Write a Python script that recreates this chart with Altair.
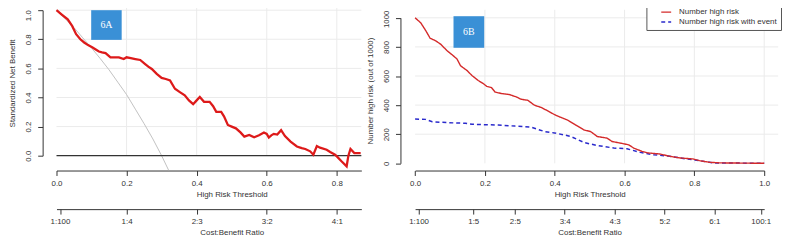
import altair as alt
import pandas as pd

# ---------------- data ----------------
# Panel 6A: decision curve (standardized net benefit)
a_t = [0.0, 0.015, 0.032, 0.045, 0.056, 0.068, 0.079, 0.09, 0.103, 0.112, 0.121, 0.13, 0.14,
       0.154, 0.165, 0.178, 0.192, 0.2, 0.212, 0.225, 0.239, 0.253, 0.262, 0.272, 0.286, 0.3,
       0.312, 0.324, 0.338, 0.352, 0.366, 0.378, 0.39, 0.398, 0.409, 0.421, 0.437, 0.447, 0.456,
       0.47, 0.478, 0.489, 0.5, 0.512, 0.525, 0.536, 0.55, 0.564, 0.578, 0.592, 0.6, 0.606,
       0.613, 0.62, 0.63, 0.641, 0.652, 0.668, 0.686, 0.70, 0.71, 0.724, 0.733, 0.743, 0.752,
       0.771, 0.781, 0.795, 0.8, 0.814, 0.828, 0.833, 0.839, 0.85, 0.868]
a_nb = [1.0, 0.97, 0.937, 0.89, 0.835, 0.80, 0.778, 0.76, 0.744, 0.73, 0.716, 0.71, 0.705,
        0.676, 0.675, 0.676, 0.664, 0.676, 0.67, 0.664, 0.658, 0.63, 0.612, 0.596, 0.562, 0.535,
        0.527, 0.517, 0.46, 0.437, 0.415, 0.38, 0.354, 0.375, 0.403, 0.37, 0.37, 0.34, 0.301,
        0.301, 0.27, 0.211, 0.2, 0.188, 0.16, 0.131, 0.143, 0.127, 0.14, 0.159, 0.15, 0.125,
        0.14, 0.15, 0.145, 0.175, 0.135, 0.097, 0.063, 0.052, 0.046, 0.03, 0.007, 0.066, 0.055,
        0.041, 0.025, 0.007, -0.005, -0.04, -0.073, 0.0, 0.046, 0.018, 0.018]
all_t = [0.0, 0.025, 0.05, 0.075, 0.1, 0.125, 0.15, 0.175, 0.2, 0.225, 0.25, 0.275, 0.3, 0.32]
all_nb = [1.0, 0.94, 0.88, 0.81, 0.74, 0.667, 0.59, 0.505, 0.42, 0.32, 0.22, 0.115, 0.0, -0.1]
none_t = [0.0, 0.87]
none_nb = [0.0, 0.0]

# Panel 6B: clinical impact curve (out of 1000)
b_t_risk = [0.0, 0.016, 0.03, 0.043, 0.059, 0.073, 0.092, 0.106, 0.12, 0.13, 0.149, 0.163, 0.181,
            0.196, 0.205, 0.219, 0.229, 0.248, 0.271, 0.29, 0.304, 0.323, 0.342, 0.361, 0.385,
            0.399, 0.413, 0.437, 0.46, 0.484, 0.503, 0.522, 0.55, 0.564, 0.588, 0.612, 0.626,
            0.65, 0.668, 0.701, 0.73, 0.758, 0.796, 0.815, 0.843, 0.872, 0.914, 1.0]
b_n_risk = [1000, 966, 914, 860, 842, 819, 773, 746, 717, 671, 637, 603, 569,
            547, 529, 520, 490, 479, 472, 456, 440, 433, 399, 384, 354,
            335, 320, 297, 263, 229, 218, 184, 173, 150, 139, 127, 105,
            82, 71, 64, 48, 37, 30, 18, 7, 3, 2, 0]
b_t_event = [0.0, 0.03, 0.049, 0.096, 0.144, 0.163, 0.238, 0.285, 0.333, 0.371, 0.399, 0.427,
             0.446, 0.484, 0.522, 0.569, 0.607, 0.645, 0.683, 0.73, 0.777, 0.815, 0.853, 1.0]
b_n_event = [304, 302, 286, 279, 275, 268, 263, 256, 248, 218, 209, 195,
             184, 143, 122, 105, 100, 75, 59, 48, 30, 18, 3, 0]
series_names = ["Number high risk", "Number high risk with event"]

# axes ticks / labels
a_thr_ticks = [0.0, 0.2, 0.4, 0.6, 0.8]
a_cb_ticks = [1 / 101, 0.2, 0.4, 0.6, 0.8]
a_cb_labels = ["1:100", "1:4", "2:3", "3:2", "4:1"]
b_thr_ticks = [0.0, 0.2, 0.4, 0.6, 0.8, 1.0]
b_cb_ticks = [1 / 101, 1 / 6, 2 / 7, 3 / 7, 4 / 7, 5 / 7, 6 / 7, 100 / 101]
b_cb_labels = ["1:100", "1:5", "2:5", "3:4", "4:3", "5:2", "6:1", "100:1"]
nb_ticks = [0.0, 0.2, 0.4, 0.6, 0.8, 1.0]
n_ticks = [0, 200, 400, 600, 800, 1000]

# panel tag boxes (data coordinates)
a_box = dict(x0=0.099, x1=0.186, y0=0.796, y1=1.0, label="6A")
b_box = dict(x0=0.110, x1=0.198, y0=794, y1=1011, label="6B")

# ---------------- style ----------------
FONT = "Liberation Sans"
TXT = "#333333"
W, H = 783, 234
GRID = "#ebebeb"

xa = alt.Scale(domain=[0, 0.87], range=[49, 357], nice=False, zero=False)
ya = alt.Scale(domain=[0, 1], range=[148, 1], nice=False, zero=False)
xb = alt.Scale(domain=[0, 1], range=[411.3, 764], nice=False, zero=False)
yb = alt.Scale(domain=[0, 1000], range=[155.7, 8.7], nice=False, zero=False)


def lab_expr(ticks, labels):
    expr = "''"
    for v, l in reversed(list(zip(ticks, labels))):
        expr = f"abs(datum.value - {v}) < 1e-6 ? '{l}' : {expr}"
    return expr


def common_axis(**kw):
    base = dict(grid=False, tickSize=5, domainColor=TXT, tickColor=TXT, labelColor=TXT,
                titleColor=TXT, labelFont=FONT, titleFont=FONT, labelFontSize=8,
                titleFontSize=8, titleFontWeight="normal", labelFlush=False,
                labelOverlap=False, domainWidth=1, tickWidth=1)
    base.update(kw)
    return alt.Axis(**base)


def x_axis(values, title, offset, expr=None, fmt=None, titleX=None):
    kw = dict(values=values, title=title, orient="bottom", offset=offset,
              labelPadding=4, titlePadding=3)
    if expr:
        kw["labelExpr"] = expr
    if fmt:
        kw["format"] = fmt
    if titleX is not None:
        kw["titleX"] = titleX
    return common_axis(**kw)


def y_axis(values, title, offset, fmt, top_value, top_shift):
    return common_axis(values=values, title=title, orient="left", offset=offset, format=fmt,
                       labelAngle=270, labelAlign="center", labelBaseline="bottom",
                       labelOffset={"condition": {"test": f"datum.value >= {top_value}",
                                                  "value": top_shift}, "value": 0},
                       labelPadding=5, titlePadding=8)


# ---------------- panel A ----------------
df_a = pd.DataFrame({"t": a_t, "nb": a_nb})
df_all = pd.DataFrame({"t": all_t, "nb": all_nb})
df_none = pd.DataFrame({"t": none_t, "nb": none_nb})
df_agv = pd.DataFrame({"gx": a_thr_ticks[1:], "gy0": nb_ticks[0], "gy1": 1.05})
df_agh = pd.DataFrame({"gy": nb_ticks[1:], "gx0": none_t[0], "gx1": none_t[1]})
df_abox = pd.DataFrame([a_box])
df_abox["xc"] = (df_abox.x0 + df_abox.x1) / 2
df_abox["yc"] = (df_abox.y0 + df_abox.y1) / 2

a_gv = alt.Chart(df_agv).mark_rule(color=GRID, strokeWidth=1).encode(
    x=alt.X("gx:Q", scale=xa, axis=None), y=alt.Y("gy0:Q", scale=ya, axis=None), y2="gy1:Q")
a_gh = alt.Chart(df_agh).mark_rule(color=GRID, strokeWidth=1).encode(
    y=alt.Y("gy:Q", scale=ya, axis=None), x=alt.X("gx0:Q", scale=xa, axis=None), x2="gx1:Q")
a_all = alt.Chart(df_all).mark_line(color="#bbbbbb", strokeWidth=0.9).encode(
    x=alt.X("t:Q", scale=xa,
            axis=x_axis(a_cb_ticks, "Cost:Benefit Ratio", -32,
                        expr=lab_expr(a_cb_ticks, a_cb_labels), titleX=226)),
    y=alt.Y("nb:Q", scale=ya, axis=None))
a_none = alt.Chart(df_none).mark_line(color="#333333", strokeWidth=1.3).encode(
    x=alt.X("t:Q", scale=xa, axis=None), y=alt.Y("nb:Q", scale=ya, axis=None))
a_line = alt.Chart(df_a).mark_line(color="#dd1a1a", strokeWidth=2.3).encode(
    x=alt.X("t:Q", scale=xa, axis=x_axis(a_thr_ticks, "High Risk Threshold", -71,
                                          fmt=".1f", titleX=226)),
    y=alt.Y("nb:Q", scale=ya,
            axis=y_axis(nb_ticks, "Standardized Net Benefit", -35, ".1f", 1, 5)))
a_rect = alt.Chart(df_abox).mark_rect(color="#3a90d6").encode(
    x=alt.X("x0:Q", scale=xa, axis=None), x2="x1:Q",
    y=alt.Y("y0:Q", scale=ya, axis=None), y2="y1:Q")
a_text = alt.Chart(df_abox).mark_text(color="white", font="Liberation Serif", fontSize=10).encode(
    x=alt.X("xc:Q", scale=xa, axis=None), y=alt.Y("yc:Q", scale=ya, axis=None), text="label:N")

panel_a = alt.layer(a_gv, a_gh, a_all, a_none, a_line, a_rect, a_text).resolve_axis(
    x="independent", y="independent")

# ---------------- panel B ----------------
df_br = pd.DataFrame({"t": b_t_risk, "n": b_n_risk, "series": series_names[0]})
df_be = pd.DataFrame({"t": b_t_event, "n": b_n_event, "series": series_names[1]})
df_bgv = pd.DataFrame({"gx": b_thr_ticks[1:], "gy0": n_ticks[0], "gy1": 1055})
df_bgh = pd.DataFrame({"gy": n_ticks[1:], "gx0": b_thr_ticks[0], "gx1": 1.04})
df_bbox = pd.DataFrame([b_box])
df_bbox["xc"] = (df_bbox.x0 + df_bbox.x1) / 2
df_bbox["yc"] = (df_bbox.y0 + df_bbox.y1) / 2

legend = alt.Legend(title=None, orient="none", legendX=645, legendY=-7, padding=4,
                    strokeColor="#555555", fillColor="white", labelFont=FONT, labelFontSize=8,
                    labelColor=TXT, symbolType="stroke", symbolSize=100, symbolStrokeWidth=1.4,
                    symbolOffset=10, labelOffset=7, rowPadding=0, labelLimit=0, cornerRadius=0)
color_enc = alt.Color("series:N", scale=alt.Scale(domain=series_names,
                                                  range=["#d42a2a", "#2a2acc"]), legend=legend)
dash_enc = alt.StrokeDash("series:N", scale=alt.Scale(domain=series_names,
                                                      range=[[1, 0], [4, 3]]), legend=legend)

b_gv = alt.Chart(df_bgv).mark_rule(color=GRID, strokeWidth=1).encode(
    x=alt.X("gx:Q", scale=xb, axis=None), y=alt.Y("gy0:Q", scale=yb, axis=None), y2="gy1:Q")
b_gh = alt.Chart(df_bgh).mark_rule(color=GRID, strokeWidth=1).encode(
    y=alt.Y("gy:Q", scale=yb, axis=None), x=alt.X("gx0:Q", scale=xb, axis=None), x2="gx1:Q")
b_event = alt.Chart(df_be).mark_line(strokeWidth=1.5).encode(
    x=alt.X("t:Q", scale=xb,
            axis=x_axis(b_cb_ticks, "Cost:Benefit Ratio", -32,
                        expr=lab_expr(b_cb_ticks, b_cb_labels))),
    y=alt.Y("n:Q", scale=yb, axis=None), color=color_enc, strokeDash=dash_enc)
b_risk = alt.Chart(df_br).mark_line(strokeWidth=1.4).encode(
    x=alt.X("t:Q", scale=xb, axis=x_axis(b_thr_ticks, "High Risk Threshold", -71, fmt=".1f")),
    y=alt.Y("n:Q", scale=yb,
            axis=y_axis(n_ticks, "Number high risk (out of 1000)", -396.5, "d", 1000, 1)),
    color=color_enc, strokeDash=dash_enc)
b_rect = alt.Chart(df_bbox).mark_rect(color="#3a90d6").encode(
    x=alt.X("x0:Q", scale=xb, axis=None), x2="x1:Q",
    y=alt.Y("y0:Q", scale=yb, axis=None), y2="y1:Q")
b_text = alt.Chart(df_bbox).mark_text(color="white", font="Liberation Serif", fontSize=10).encode(
    x=alt.X("xc:Q", scale=xb, axis=None), y=alt.Y("yc:Q", scale=yb, axis=None), text="label:N")

panel_b = alt.layer(b_gv, b_gh, b_event, b_risk, b_rect, b_text).resolve_axis(
    x="independent", y="independent")

chart = alt.layer(panel_a, panel_b).resolve_scale(
    x="independent", y="independent", color="independent", strokeDash="independent"
).resolve_axis(x="independent", y="independent").properties(
    width=W, height=H, padding=0,
    autosize=alt.AutoSizeParams(type="none"),
    background="white",
).configure_view(strokeWidth=0)

chart.save("out.html", embed_options={"renderer": "svg", "actions": False})
